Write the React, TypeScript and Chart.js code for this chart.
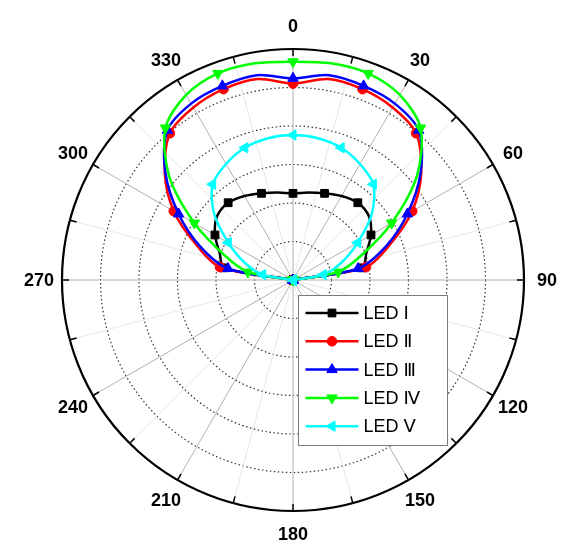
import React, { useEffect, useRef } from 'react';
import { Chart, registerables } from 'chart.js';
import { drawPoint } from 'chart.js/helpers';

Chart.register(...registerables);

// category spacing of the angular axis (degrees)
const angleStep = 5;
const categories: string[] = Array.from({ length: 360 / angleStep }, (_, i) => String(i * angleStep));

// series are sampled every 10 degrees: 0, 10, 20, ..., 350
const sampleStep = 10;

const tickLabels = ['0', '30', '60', '90', '120', '150', '180', '210', '240', '270', '300', '330'];
const tickAngles = [0, 30, 60, 90, 120, 150, 180, 210, 240, 270, 300, 330];

const seriesNames = ['LED Ⅰ', 'LED Ⅱ', 'LED Ⅲ', 'LED Ⅳ', 'LED Ⅴ'];

const ledI = [0.45, 0.462, 0.479, 0.504, 0.524, 0.515, 0.468, 0.405, 0.364, 0,
  0, 0, 0, 0, 0, 0, 0, 0, 0, 0, 0, 0, 0, 0, 0, 0, 0,
  0, 0.364, 0.405, 0.468, 0.515, 0.524, 0.504, 0.479, 0.462];
const ledII = [1.02, 1.06, 1.055, 1.035, 0.995, 0.87, 0.715, 0.535, 0.385, 0,
  0, 0, 0, 0, 0, 0, 0, 0, 0, 0, 0, 0, 0, 0, 0, 0, 0,
  0, 0.385, 0.535, 0.715, 0.87, 0.995, 1.035, 1.055, 1.06];
const ledIII = [1.048, 1.08, 1.073, 1.058, 1.015, 0.865, 0.686, 0.515, 0.343, 0,
  0, 0, 0, 0, 0, 0, 0, 0, 0, 0, 0, 0, 0, 0, 0, 0, 0,
  0, 0.343, 0.515, 0.686, 0.865, 1.015, 1.058, 1.073, 1.08];
const ledIV = [1.134, 1.143, 1.142, 1.11, 1.031, 0.84, 0.592, 0.38, 0.238, 0,
  0, 0, 0, 0, 0, 0, 0, 0, 0, 0, 0, 0, 0, 0, 0, 0, 0,
  0, 0.238, 0.38, 0.592, 0.84, 1.031, 1.11, 1.142, 1.143];
const ledV = [0.753, 0.748, 0.731, 0.696, 0.649, 0.535, 0.388, 0.27, 0.16, 0,
  0, 0, 0, 0, 0, 0, 0, 0, 0, 0, 0, 0, 0, 0, 0, 0, 0,
  0, 0.16, 0.27, 0.388, 0.535, 0.649, 0.696, 0.731, 0.748];

const seriesValues = [ledI, ledII, ledIII, ledIV, ledV];

// styles
const seriesColors = ['#000000', '#ff0000', '#0000ff', '#00ff00', '#00ffff'];
const markerStyles = ['rect', 'circle', 'triangle', 'triangle', 'triangle'];
const markerRotations = [0, 0, 0, 180, 270];
const markerRadii = [5.5, 4.8, 6, 6, 6];
const drawOrder = [4, 3, 2, 1, 0];

function expand(values: number[]): (number | null)[] {
  const ratio = sampleStep / angleStep;
  return categories.map((_, i) => (i % ratio === 0 ? values[i / ratio] : null));
}

const labelFont = 'bold 18px "Liberation Sans", Arial, sans-serif';
const legendFont = '18px "Liberation Sans", "DejaVu Sans", Arial, sans-serif';

const decorPlugin = {
  id: 'polarDecor',
  afterDraw(chart: any) {
    const scale = chart.scales.r;
    const ctx: CanvasRenderingContext2D = chart.ctx;
    const R = scale.drawingArea;
    const n = chart.data.labels.length;
    ctx.save();
    // tick marks on the outer circle every 15 degrees
    ctx.strokeStyle = '#000';
    ctx.lineWidth = 1.5;
    for (let i = 0; i < n; i++) {
      const deg = i * angleStep;
      if (deg % 15 !== 0) continue;
      const a = scale.getPointPosition(i, R);
      const b = scale.getPointPosition(i, R - 7);
      ctx.beginPath();
      ctx.moveTo(a.x, a.y);
      ctx.lineTo(b.x, b.y);
      ctx.stroke();
    }
    // angle labels
    ctx.fillStyle = '#000';
    ctx.font = labelFont;
    ctx.textAlign = 'center';
    ctx.textBaseline = 'middle';
    tickAngles.forEach((deg, k) => {
      const p = scale.getPointPosition(deg / angleStep, R * 1.1);
      ctx.fillText(tickLabels[k], p.x, p.y + 1);
    });
    // legend box
    const left = Math.round(scale.xCenter + 5) + 0.5;
    const top = Math.round(scale.yCenter + 15) + 0.5;
    const w = 149;
    const h = 150;
    ctx.fillStyle = '#ffffff';
    ctx.fillRect(left, top, w, h);
    ctx.strokeStyle = '#7a7a7a';
    ctx.lineWidth = 1;
    ctx.strokeRect(left, top, w, h);
    chart.data.datasets.forEach((ds: any, i: number) => {
      const y = top + 17.5 + i * 28.3;
      ctx.strokeStyle = ds.borderColor;
      ctx.lineWidth = 2.5;
      ctx.beginPath();
      ctx.moveTo(left + 7, y);
      ctx.lineTo(left + 60, y);
      ctx.stroke();
      ctx.fillStyle = ds.borderColor;
      ctx.strokeStyle = ds.borderColor;
      ctx.lineWidth = 1;
      drawPoint(ctx, { pointStyle: markerStyles[i], radius: markerRadii[i], rotation: markerRotations[i], borderWidth: 1 } as any, left + 33.5, y);
      ctx.fillStyle = '#000';
      ctx.font = legendFont;
      ctx.textAlign = 'left';
      ctx.textBaseline = 'middle';
      ctx.fillText(ds.label, left + 65, y + 1);
    });
    ctx.restore();
  },
};

export default function App() {
  const canvasRef = useRef<HTMLCanvasElement | null>(null);

  useEffect(() => {
    const canvas = canvasRef.current;
    if (!canvas) return;
    const datasets = seriesValues.map((vals, i) => ({
      label: seriesNames[i],
      data: expand(vals),
      borderColor: seriesColors[i],
      backgroundColor: seriesColors[i],
      borderWidth: 2.5,
      fill: false,
      tension: 0.3,
      spanGaps: true,
      order: drawOrder[i],
      pointStyle: markerStyles[i],
      pointRotation: markerRotations[i],
      pointBackgroundColor: seriesColors[i],
      pointBorderColor: seriesColors[i],
      pointBorderWidth: 1,
      pointRadius: (c: any) => ((c.dataIndex * angleStep) % 20 === 0 ? markerRadii[i] : 0),
    }));
    const lastTick = 6;
    const chart = new Chart(canvas, {
      type: 'radar',
      data: { labels: categories, datasets },
      options: {
        animation: false,
        responsive: false,
        devicePixelRatio: 1,
        events: [],
        layout: { padding: { left: 62, right: 39, top: 49, bottom: 33 } },
        plugins: { legend: { display: false }, tooltip: { enabled: false } },
        scales: {
          r: {
            min: 0,
            max: 1.2,
            startAngle: 0,
            ticks: { display: false, stepSize: 0.2 },
            pointLabels: { display: false },
            grid: {
              circular: true,
              color: (c: any) => (c.index === lastTick ? '#000000' : '#333333'),
              lineWidth: (c: any) => (c.index === lastTick ? 2.2 : 1.2),
            },
            border: {
              dash: (c: any) => (c.index === lastTick ? [] : [1.5, 2.5]),
            },
            angleLines: {
              display: true,
              color: (c: any) => {
                const deg = c.index * angleStep;
                if (deg % 30 === 0) return '#b0b0b0';
                if (deg % 15 === 0) return '#e8e8e8';
                return 'rgba(0,0,0,0)';
              },
              lineWidth: (c: any) => ((c.index * angleStep) % 15 === 0 ? 1 : 0),
            },
          },
        },
      } as any,
      plugins: [decorPlugin],
    });
    return () => chart.destroy();
  }, []);

  return (
    <div style={{ position: 'fixed', left: 0, top: 0, width: 563, height: 544, background: '#fff' }}>
      <canvas ref={canvasRef} width={563} height={544} style={{ width: 563, height: 544, display: 'block' }} />
    </div>
  );
}
